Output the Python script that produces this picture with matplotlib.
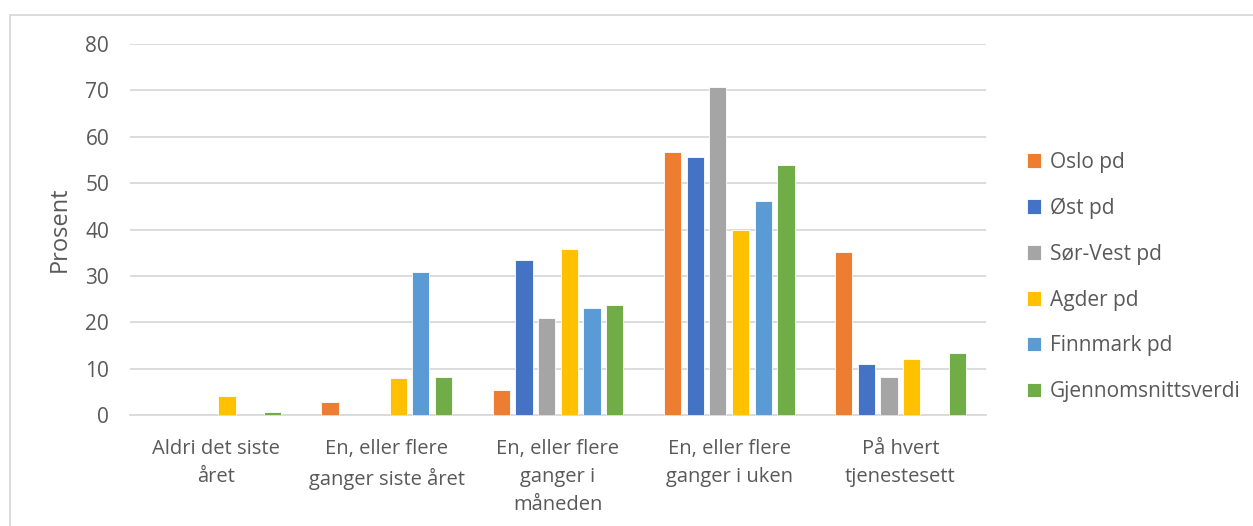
import matplotlib
matplotlib.use("Agg")
import matplotlib.pyplot as plt
from matplotlib.patches import Rectangle
import numpy as np

categories = [
    "Aldri det siste\nåret",
    "En, eller flere\nganger siste året",
    "En, eller flere\nganger i\nmåneden",
    "En, eller flere\nganger i uken",
    "På hvert\ntjenestesett",
]
series_names = ["Oslo pd", "Øst pd", "Sør-Vest pd", "Agder pd", "Finnmark pd", "Gjennomsnittsverdi"]
oslo = [0, 2.7, 5.4, 56.7, 35.1]
ost = [0, 0, 33.4, 55.6, 11.1]
sor_vest = [0, 0, 20.9, 70.8, 8.3]
agder = [4.0, 8.0, 35.9, 40.0, 12.0]
finnmark = [0, 30.8, 23.1, 46.1, 0]
snitt = [0.7, 8.3, 23.7, 53.9, 13.3]
yticks = [0, 10, 20, 30, 40, 50, 60, 70, 80]

series = [oslo, ost, sor_vest, agder, finnmark, snitt]
colors = ["#ED7D31", "#4472C4", "#A5A5A5", "#FFC000", "#5B9BD5", "#70AD47"]
text_color = "#595959"
grid_color = "#D9D9D9"

plt.rcParams["font.family"] = ["Open Sans", "DejaVu Sans"]

W, H = 1253, 526
fig = plt.figure(figsize=(W / 100, H / 100), dpi=100)
ax = fig.add_axes([130 / W, 1 - 415 / H, 856 / W, (415 - 44) / H])

x = np.arange(len(categories))
slot = 0.1326
bar_w = 0.101
for i, (vals, name, col) in enumerate(zip(series, series_names, colors)):
    offs = (i - (len(series) - 1) / 2) * slot
    ax.bar(x + offs, vals, width=bar_w, color=col, label=name,
           edgecolor="white", linewidth=0.6, zorder=3)

ax.set_xlim(-0.5, len(categories) - 0.5)
ax.set_ylim(0, 80)
ax.set_yticks(yticks)
ax.set_xticks(x)
ax.set_xticklabels(categories, fontsize=14.5, color=text_color, linespacing=1.55)
ax.tick_params(axis="y", labelsize=15, colors=text_color, length=0, pad=15)
ax.tick_params(axis="x", length=0, pad=17)
ax.grid(axis="y", color=grid_color, linewidth=1.3, zorder=0)
ax.set_axisbelow(True)
for s in ["top", "right", "left"]:
    ax.spines[s].set_visible(False)
ax.spines["bottom"].set_color(grid_color)
ax.spines["bottom"].set_linewidth(1.3)

ax.set_ylabel("Prosent", fontsize=17, color=text_color, labelpad=10)

leg = fig.legend(loc="center left", bbox_to_anchor=(1008 / W, 1 - 277 / H),
                 frameon=False, fontsize=15, handlelength=0.7, handleheight=0.7,
                 handletextpad=0.4, labelspacing=1.19)
for t in leg.get_texts():
    t.set_color(text_color)

# chart area border
fig.add_artist(Rectangle((10 / W, -0.05), 1.1, 1 - 15 / H + 0.05,
                         transform=fig.transFigure, fill=False,
                         edgecolor=grid_color, linewidth=1.3))

fig.savefig("out.png", dpi=100, facecolor="white")
